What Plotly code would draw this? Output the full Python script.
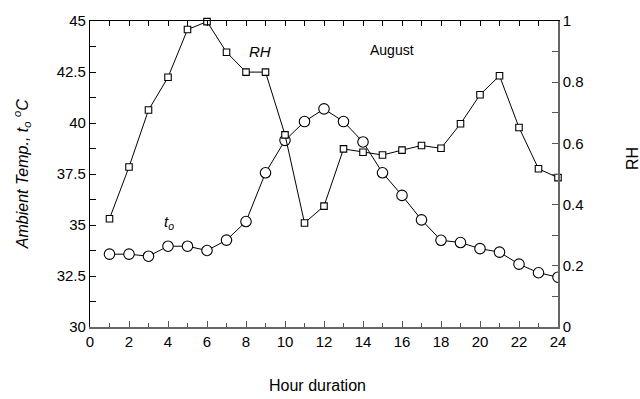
import plotly.graph_objects as go

hours = list(range(1, 25))
temp = [33.57, 33.57, 33.47, 33.96, 33.96, 33.75, 34.26, 35.17, 37.56, 39.15, 40.07, 40.69,
        40.07, 39.07, 37.56, 36.45, 35.25, 34.25, 34.14, 33.84, 33.67, 33.08, 32.66, 32.44]
rh = [0.354, 0.523, 0.709, 0.816, 0.972, 0.998, 0.898, 0.833, 0.833, 0.628, 0.340, 0.395,
      0.582, 0.571, 0.562, 0.578, 0.593, 0.584, 0.664, 0.759, 0.821, 0.652, 0.517, 0.488]

FONT = "Liberation Sans, Arial, sans-serif"

fig = go.Figure()
fig.add_trace(go.Scatter(
    x=hours, y=temp, mode="lines+markers", name="t_o",
    line=dict(color="black", width=1),
    marker=dict(symbol="circle", size=10.5, color="white", line=dict(color="black", width=1.1)),
    xaxis="x", yaxis="y"))
fig.add_trace(go.Scatter(
    x=hours, y=rh, mode="lines+markers", name="RH",
    line=dict(color="black", width=1),
    marker=dict(symbol="square", size=6.5, color="white", line=dict(color="black", width=1.1)),
    xaxis="x", yaxis="y2", cliponaxis=False))

fig.update_layout(
    width=640, height=399,
    margin=dict(l=90, r=82, t=18, b=72),
    paper_bgcolor="white", plot_bgcolor="white",
    showlegend=False,
    font=dict(family=FONT, size=15, color="black"),
    xaxis=dict(range=[0, 24], dtick=2, tick0=0, ticks="inside", ticklen=6, tickwidth=1,
               tickcolor="#555", showline=True, linecolor="#666", linewidth=1.5,
               showgrid=False, zeroline=False,
               minor=dict(dtick=1, ticks="inside", ticklen=4, tickcolor="#555", showgrid=False)),
    xaxis2=dict(range=[0, 24], overlaying="x", side="top", dtick=1, tick0=0, ticks="inside",
                ticklen=5, tickcolor="black", showticklabels=False, showline=True,
                linecolor="black", linewidth=1, showgrid=False, zeroline=False),
    yaxis=dict(range=[30, 45], dtick=2.5, tick0=30, ticks="inside", ticklen=6, tickcolor="black",
               showline=True, linecolor="black", linewidth=1.2, showgrid=False, zeroline=False,
               minor=dict(dtick=1.25, ticks="inside", ticklen=6, tickcolor="black", showgrid=False)),
    yaxis2=dict(range=[0, 1], dtick=0.2, tick0=0, overlaying="y", side="right", ticks="inside",
                ticklen=6, tickcolor="#555", showline=True, linecolor="#666", linewidth=1.5,
                showgrid=False, zeroline=False,
                minor=dict(dtick=0.1, ticks="inside", ticklen=6, tickcolor="#555", showgrid=False)),
)
# dummy trace to activate xaxis2
fig.add_trace(go.Scatter(x=[None], y=[None], xaxis="x2", yaxis="y", showlegend=False))

fig.add_annotation(text="Hour duration", xref="paper", yref="paper", x=0.486, y=-0.19,
                   showarrow=False, font=dict(size=16), xanchor="center", yanchor="middle")
fig.add_annotation(text="<i>Ambient Temp., t<sub>o</sub> <sup>o</sup>C</i>", xref="paper", yref="paper",
                   x=-0.145, y=0.5, textangle=-90, showarrow=False, font=dict(size=16),
                   xanchor="center", yanchor="middle")
fig.add_annotation(text="RH", xref="paper", yref="paper", x=1.159, y=0.55, textangle=-90,
                   showarrow=False, font=dict(size=16), xanchor="center", yanchor="middle")
fig.add_annotation(text="<i>RH</i>", x=8.7, y=43.5, xref="x", yref="y", showarrow=False,
                   font=dict(size=15))
fig.add_annotation(text="August", x=15.5, y=43.6, xref="x", yref="y", showarrow=False,
                   font=dict(size=14))
fig.add_annotation(text="<i>t<sub>o</sub></i>", x=4.05, y=35.1, xref="x", yref="y", showarrow=False,
                   font=dict(size=15))

fig.write_html("out.html")
